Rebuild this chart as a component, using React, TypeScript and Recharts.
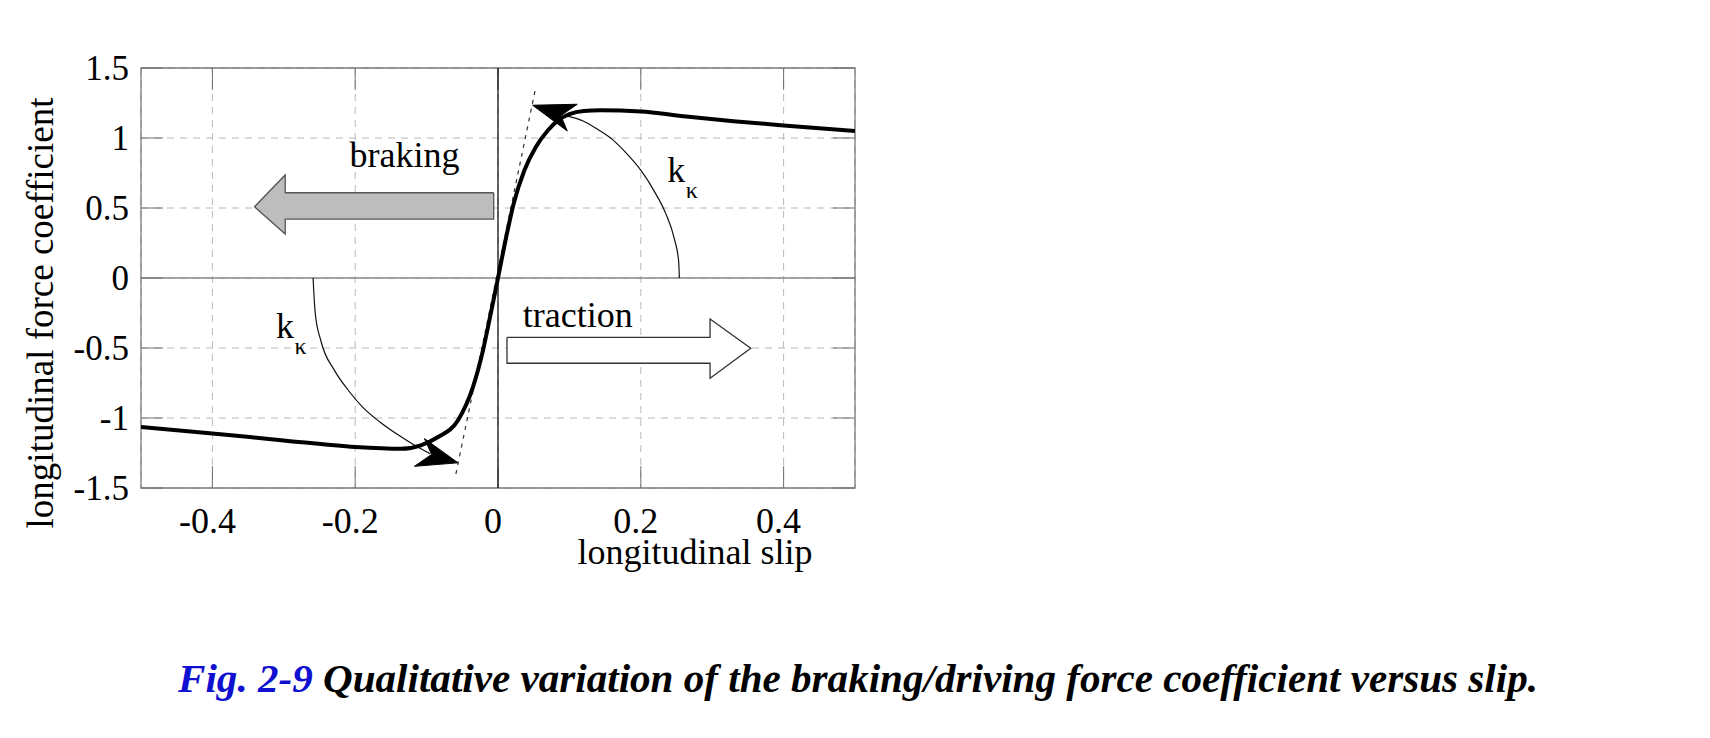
import { ComposedChart, XAxis, YAxis, CartesianGrid, Scatter, ReferenceLine, ReferenceArea, Label } from 'recharts';

const serif = "'Liberation Serif', 'Times New Roman', serif";

const xTicks = [-0.4, -0.2, 0, 0.2, 0.4];
const yTicks = [-1.5, -1, -0.5, 0, 0.5, 1, 1.5];

// thick force coefficient curve
const forceCurve = [
  { x: -0.5, y: -1.064 },
  { x: -0.4, y: -1.11 },
  { x: -0.3, y: -1.16 },
  { x: -0.2, y: -1.207 },
  { x: -0.136, y: -1.22 },
  { x: -0.108, y: -1.195 },
  { x: -0.084, y: -1.136 },
  { x: -0.056, y: -1.016 },
  { x: -0.035, y: -0.778 },
  { x: -0.021, y: -0.516 },
  { x: -0.012, y: -0.3 },
  { x: 0, y: 0 },
  { x: 0.0115, y: 0.293 },
  { x: 0.022, y: 0.533 },
  { x: 0.037, y: 0.77 },
  { x: 0.053, y: 0.936 },
  { x: 0.07, y: 1.055 },
  { x: 0.084, y: 1.126 },
  { x: 0.1, y: 1.17 },
  { x: 0.12, y: 1.193 },
  { x: 0.144, y: 1.198 },
  { x: 0.2, y: 1.19 },
  { x: 0.26, y: 1.155 },
  { x: 0.33, y: 1.12 },
  { x: 0.4, y: 1.09 },
  { x: 0.5, y: 1.05 },
];

// slope at the origin
const tangentLine = [
  { x: -0.059, y: -1.4 },
  { x: 0.052, y: 1.34 },
];

const stiffnessArcPos = [
  { x: 0.095, y: 1.16 },
  { x: 0.12, y: 1.12 },
  { x: 0.14, y: 1.06 },
  { x: 0.16, y: 0.99 },
  { x: 0.18, y: 0.89 },
  { x: 0.2, y: 0.77 },
  { x: 0.22, y: 0.61 },
  { x: 0.235, y: 0.46 },
  { x: 0.247, y: 0.28 },
  { x: 0.253, y: 0.12 },
  { x: 0.254, y: 0 },
];

const stiffnessArcNeg = [
  { x: -0.259, y: 0 },
  { x: -0.256, y: -0.25 },
  { x: -0.248, y: -0.45 },
  { x: -0.229, y: -0.66 },
  { x: -0.21, y: -0.8 },
  { x: -0.19, y: -0.92 },
  { x: -0.165, y: -1.03 },
  { x: -0.14, y: -1.12 },
  { x: -0.115, y: -1.2 },
  { x: -0.095, y: -1.255 },
];

const arrowHeadUpper = [
  { x: 0.0485, y: 1.234 },
  { x: 0.111, y: 1.241 },
  { x: 0.088, y: 1.16 },
  { x: 0.097, y: 1.05 },
  { x: 0.0485, y: 1.234 },
];

const arrowHeadLower = [
  { x: -0.056, y: -1.32 },
  { x: -0.117, y: -1.345 },
  { x: -0.093, y: -1.26 },
  { x: -0.103, y: -1.147 },
  { x: -0.056, y: -1.32 },
];

const brakingArrow = [
  { x: -0.006, y: 0.609 },
  { x: -0.298, y: 0.609 },
  { x: -0.298, y: 0.736 },
  { x: -0.341, y: 0.509 },
  { x: -0.298, y: 0.314 },
  { x: -0.298, y: 0.421 },
  { x: -0.006, y: 0.421 },
  { x: -0.006, y: 0.609 },
];

const tractionArrow = [
  { x: 0.0126, y: -0.424 },
  { x: 0.297, y: -0.424 },
  { x: 0.297, y: -0.293 },
  { x: 0.354, y: -0.502 },
  { x: 0.297, y: -0.716 },
  { x: 0.297, y: -0.609 },
  { x: 0.0126, y: -0.609 },
  { x: 0.0126, y: -0.424 },
];

const wordLabels = [
  { x: -0.208, y: 0.795, text: 'braking' },
  { x: 0.0346, y: -0.348, text: 'traction' },
  { x: 0.237, y: 0.689, text: 'k' },
  { x: -0.311, y: -0.431, text: 'k' },
];

const subLabels = [
  { x: 0.263, y: 0.571, text: 'κ' },
  { x: -0.285, y: -0.543, text: 'κ' },
];

const noDot = () => <g />;

const textShape = (size: number) => (props: any) => (
  <text x={props.cx} y={props.cy} fontSize={size} fontFamily={serif} fill="#000">
    {props.payload.text}
  </text>
);

const tickLenX = 0.031;
const tickLenY = 0.157;
const tickColor = '#707070';

export default function App() {
  return (
    <div style={{ position: 'absolute', left: 0, top: 0, width: 1710, height: 738, background: '#fff' }}>
      <ComposedChart
        width={900}
        height={600}
        margin={{ top: 68, right: 45, left: 0, bottom: 32 }}
        style={{ position: 'absolute', left: 0, top: 0 }}
      >
        <CartesianGrid stroke="#b8b8b8" strokeDasharray="7 6" />
        <XAxis
          type="number"
          dataKey="x"
          domain={[-0.5, 0.5]}
          ticks={xTicks}
          allowDataOverflow
          axisLine={false}
          tickLine={false}
          tickSize={0}
          tickMargin={19}
          height={80}
          tick={{ fontSize: 36, fill: '#000', fontFamily: serif, dx: -5 }}
        >
          <Label
            content={({ viewBox }: any) => (
              <text x={viewBox.x + 554} y={viewBox.y + 76} textAnchor="middle" fontSize={36} fontFamily={serif} fill="#000">
                longitudinal slip
              </text>
            )}
          />
        </XAxis>
        <YAxis
          type="number"
          dataKey="y"
          domain={[-1.5, 1.5]}
          ticks={yTicks}
          allowDataOverflow
          axisLine={false}
          tickLine={false}
          tickSize={0}
          tickMargin={12}
          width={141}
          tick={{ fontSize: 35, fill: '#000', fontFamily: serif }}
        >
          <Label
            content={({ viewBox }: any) => (
              <text
                x={53}
                y={viewBox.y + viewBox.height / 2 + 35}
                transform={`rotate(-90 53 ${viewBox.y + viewBox.height / 2 + 35})`}
                textAnchor="middle"
                fontSize={37}
                fontFamily={serif}
                fill="#000"
              >
                longitudinal force coefficient
              </text>
            )}
          />
        </YAxis>

        <ReferenceLine y={0} stroke="#8a8a8a" strokeWidth={1.6} />
        {xTicks.map((t) => (
          <ReferenceLine key={'xb' + t} segment={[{ x: t, y: -1.5 }, { x: t, y: -1.5 + tickLenY }]} stroke={tickColor} />
        ))}
        {xTicks.map((t) => (
          <ReferenceLine key={'xt' + t} segment={[{ x: t, y: 1.5 }, { x: t, y: 1.5 - tickLenY }]} stroke={tickColor} />
        ))}
        {yTicks.map((t) => (
          <ReferenceLine key={'yl' + t} segment={[{ x: -0.5, y: t }, { x: -0.5 + tickLenX, y: t }]} stroke={tickColor} />
        ))}
        {yTicks.map((t) => (
          <ReferenceLine key={'yr' + t} segment={[{ x: 0.5, y: t }, { x: 0.5 - tickLenX, y: t }]} stroke={tickColor} />
        ))}
        <ReferenceArea x1={-0.5} x2={0.5} y1={-1.5} y2={1.5} fill="none" stroke="#7a7a7a" strokeWidth={1.3} />
        <ReferenceLine x={0} stroke="#000" strokeWidth={1.2} />

        <Scatter data={brakingArrow} shape={noDot} line={{ stroke: '#555', strokeWidth: 1.3, fill: '#bdbdbd' }} lineJointType="linear" isAnimationActive={false} />
        <Scatter data={tractionArrow} shape={noDot} line={{ stroke: '#333', strokeWidth: 1.3, fill: '#fff' }} lineJointType="linear" isAnimationActive={false} />
        <Scatter data={tangentLine} shape={noDot} line={{ stroke: '#333', strokeWidth: 1.2, strokeDasharray: '4 5' }} lineJointType="linear" isAnimationActive={false} />
        <Scatter data={stiffnessArcPos} shape={noDot} line={{ stroke: '#111', strokeWidth: 1.2 }} lineJointType="monotoneX" isAnimationActive={false} />
        <Scatter data={stiffnessArcNeg} shape={noDot} line={{ stroke: '#111', strokeWidth: 1.2 }} lineJointType="monotoneX" isAnimationActive={false} />
        <Scatter data={forceCurve} shape={noDot} line={{ stroke: '#000', strokeWidth: 4 }} lineJointType="monotoneX" isAnimationActive={false} />
        <Scatter data={arrowHeadUpper} shape={noDot} line={{ stroke: '#000', strokeWidth: 1, fill: '#000' }} lineJointType="linear" isAnimationActive={false} />
        <Scatter data={arrowHeadLower} shape={noDot} line={{ stroke: '#000', strokeWidth: 1, fill: '#000' }} lineJointType="linear" isAnimationActive={false} />
        <Scatter data={wordLabels} shape={textShape(36)} isAnimationActive={false} />
        <Scatter data={subLabels} shape={textShape(24)} isAnimationActive={false} />
      </ComposedChart>

      <svg width={1710} height={80} style={{ position: 'absolute', left: 0, top: 640 }}>
        <text
          x={178}
          y={52}
          textLength={1360}
          lengthAdjust="spacingAndGlyphs"
          fontFamily={serif}
          fontWeight="bold"
          fontStyle="italic"
          fontSize={40}
        >
          <tspan fill="#1010d0">Fig. 2-9</tspan>
          <tspan fill="#000"> Qualitative variation of the braking/driving force coefficient versus slip.</tspan>
        </text>
      </svg>
    </div>
  );
}
